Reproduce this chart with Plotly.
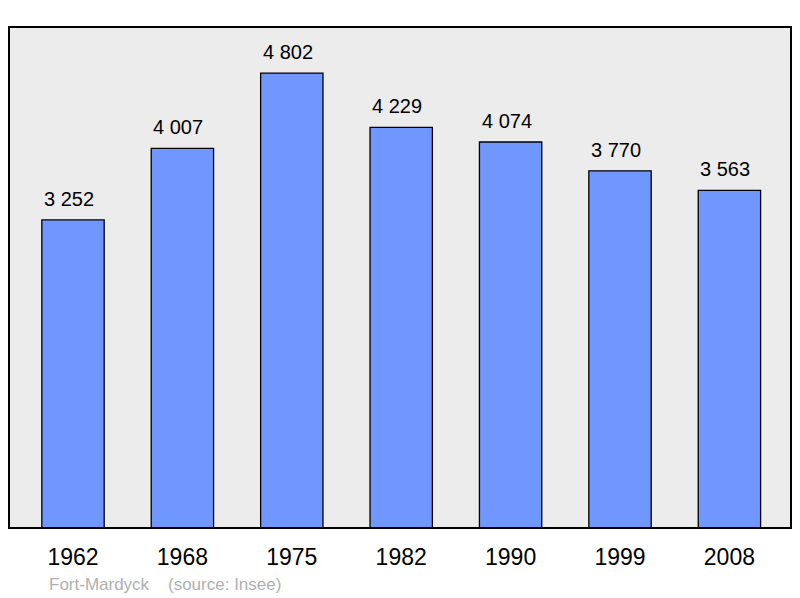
import plotly.graph_objects as go

years = ["1962", "1968", "1975", "1982", "1990", "1999", "2008"]
population = [3252, 4007, 4802, 4229, 4074, 3770, 3563]
value_labels = ["3 252", "4 007", "4 802", "4 229", "4 074", "3 770", "3 563"]
source_text = "Fort-Mardyck    (source: Insee)"

xs = list(range(len(years)))

fig = go.Figure()
fig.add_trace(go.Bar(
    x=xs, y=population, width=0.57,
    marker=dict(color="#7096ff", line=dict(color="#000000", width=1.3)),
    hoverinfo="skip",
))

for x, v, t in zip(xs, population, value_labels):
    fig.add_annotation(x=x, y=v, text=t, showarrow=False, yanchor="bottom",
                       yshift=8, xshift=-4,
                       font=dict(size=20, color="#000000", family="Liberation Sans"))

fig.add_annotation(xref="paper", yref="paper", x=0.048, y=-0.112, xanchor="left", yanchor="middle",
                   text=source_text.replace("    ", "&nbsp;&nbsp;&nbsp;&nbsp;"), showarrow=False,
                   font=dict(size=17, color="#b0b0b0", family="Liberation Sans"))

fig.add_shape(type="rect", xref="paper", yref="paper", x0=0, x1=1, y0=0, y1=1,
              line=dict(color="#000000", width=2), layer="above")

fig.update_layout(
    width=800, height=598,
    margin=dict(l=9, r=9, t=27, b=70),
    paper_bgcolor="#ffffff", plot_bgcolor="#ececec",
    showlegend=False,
    font=dict(family="Liberation Sans"),
    xaxis=dict(range=[-0.585, 6.563], tickvals=xs, ticktext=years,
               tickfont=dict(size=23, color="#000000"), showgrid=False, zeroline=False,
               ticks="outside", ticklen=8, tickcolor="rgba(0,0,0,0)", fixedrange=True),
    yaxis=dict(range=[0, 5288], showticklabels=False, showgrid=False, zeroline=False,
               fixedrange=True),
)

fig.write_html("out.html", config={"displayModeBar": False},
               post_script="document.body.style.margin='0';")
